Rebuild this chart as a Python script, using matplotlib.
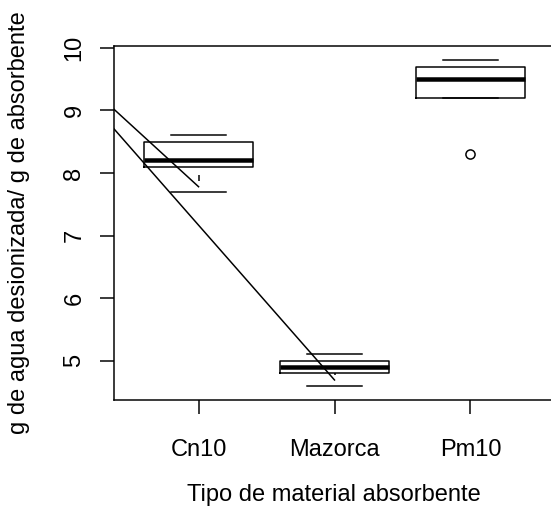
"""Boxplot: g de agua desionizada por g de absorbente, por tipo de material."""
import matplotlib
matplotlib.use("Agg")
import matplotlib.pyplot as plt

plt.rcParams["font.family"] = ["Liberation Sans", "DejaVu Sans"]
plt.rcParams["lines.scale_dashes"] = False

# --- data ---
materials = ["Cn10", "Mazorca", "Pm10"]
whisker_low = [7.7, 4.6, 9.2]
q1 = [8.1, 4.8, 9.2]
median = [8.2, 4.9, 9.5]
q3 = [8.5, 5.0, 9.7]
whisker_high = [8.6, 5.1, 9.8]
outliers = [[], [], [8.3]]

# two straight lines drawn over the boxes (clipped at the left border)
line_a_x = [0.0, 1.0]
line_a_y = [9.77, 7.78]
line_b_x = [0.0, 2.0]
line_b_y = [9.64, 4.69]

y_ticks = [5, 6, 7, 8, 9, 10]

LW = 1.08
W, H = 551, 515

fig = plt.figure(figsize=(W / 100, H / 100), dpi=100, facecolor="white")
left, right, top, bottom = 114.3, 554.7, 46.0, 400.0
ax = fig.add_axes([left / W, 1 - bottom / H, (right - left) / W, (bottom - top) / H])

stats = [
    dict(label=m, whislo=lo, q1=a, med=md, q3=b, whishi=hi, fliers=fl)
    for m, lo, a, md, b, hi, fl in zip(materials, whisker_low, q1, median, q3, whisker_high, outliers)
]
parts = ax.bxp(
    stats,
    positions=[1, 2, 3],
    widths=0.8,
    capwidths=0.4,
    boxprops=dict(color="black", linewidth=LW),
    medianprops=dict(color="black", linewidth=3.24, solid_capstyle="butt"),
    whiskerprops=dict(color="black", linewidth=LW, linestyle=(4.32, (4.32, 7.92))),
    capprops=dict(color="black", linewidth=LW),
    flierprops=dict(marker="o", markerfacecolor="none", markeredgecolor="black",
                    markersize=6.6, markeredgewidth=LW),
)
# R draws whiskers from the staple towards the box
for wl in parts["whiskers"]:
    wl.set_ydata(wl.get_ydata()[::-1])

ax.plot(line_a_x, line_a_y, color="black", linewidth=LW)
ax.plot(line_b_x, line_b_y, color="black", linewidth=LW)

ax.set_xlim(0.38, 3.62)
ax.set_ylim(4.37, 10.03)
ax.set_xticks([1, 2, 3], materials)
ax.set_yticks(y_ticks, [str(t) for t in y_ticks])
for lab in ax.get_yticklabels():
    lab.set_rotation(90)
    lab.set_va("center")
ax.tick_params(axis="both", direction="out", length=9.8, width=LW, labelsize=17, color="black")
ax.tick_params(axis="x", pad=18)
ax.tick_params(axis="y", pad=11)
for sp in ax.spines.values():
    sp.set_linewidth(LW)
    sp.set_color("black")

fig.text(334 / W, 1 - 495 / H, "Tipo de material absorbente", ha="center", va="center", fontsize=17)
fig.text(19 / W, 1 - 223 / H, "g de agua desionizada/ g de absorbente", ha="center", va="center",
         rotation=90, fontsize=17)

fig.savefig("out.png", dpi=100, facecolor="white")
plt.close(fig)
